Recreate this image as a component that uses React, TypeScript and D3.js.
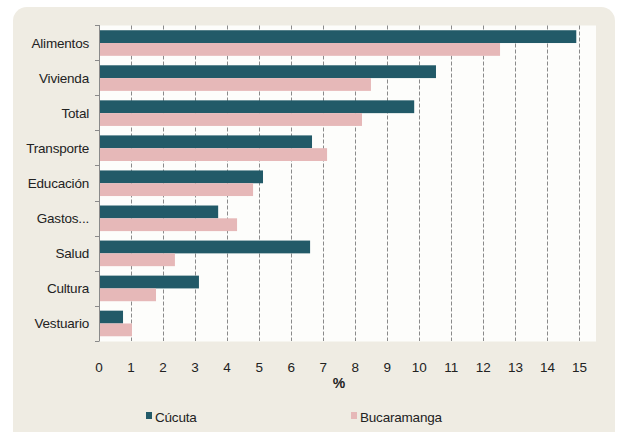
import * as d3 from 'd3';
import {useEffect, useRef} from "react";

const categories = ["Alimentos", "Vivienda", "Total", "Transporte", "Educación", "Gastos...", "Salud", "Cultura", "Vestuario"];
const cucuta = [14.9, 10.52, 9.84, 6.65, 5.12, 3.72, 6.59, 3.12, 0.75];
const bucaramanga = [12.52, 8.49, 8.21, 7.12, 4.81, 4.31, 2.37, 1.78, 1.03];
const seriesNames = ["Cúcuta", "Bucaramanga"];
const xTicks = d3.range(0, 16);

const colors = ["#225a68", "#e6b8b8"];
const font = "'Liberation Sans Narrow', 'Arial Narrow', 'Liberation Sans', sans-serif";

export default function App() {
    const svgRef = useRef<SVGSVGElement>(null);
    const width = 618;
    const height = 432;

    useEffect(() => {
        const svg = d3.select(svgRef.current);
        svg.selectAll("*").remove();

        // beige card behind everything
        svg.append("rect")
            .attr("x", 13).attr("y", 7)
            .attr("width", 602).attr("height", 440)
            .attr("rx", 14)
            .attr("fill", "#efece3");

        const x = d3.scaleLinear().domain([0, 15.5]).range([99, 595.5]);
        const y = d3.scaleBand().domain(categories).range([25.5, 341]).paddingInner(0.27).paddingOuter(0.135);

        // white plot area
        svg.append("rect")
            .attr("x", 99).attr("y", 25.5)
            .attr("width", 497).attr("height", 316)
            .attr("fill", "#fdfdfb");

        // dashed gridlines
        svg.append("g")
            .selectAll("line")
            .data(xTicks.filter(d => d > 0))
            .enter().append("line")
            .attr("x1", d => Math.round(x(d)) + 0.5)
            .attr("x2", d => Math.round(x(d)) + 0.5)
            .attr("y1", 25.5).attr("y2", 341)
            .attr("stroke", "#8a8a8a")
            .attr("stroke-dasharray", "4,2");

        const bh = y.bandwidth() / 2;
        const g = svg.append("g");
        [cucuta, bucaramanga].forEach((vals, si) => {
            g.selectAll(".bar" + si)
                .data(vals)
                .enter().append("rect")
                .attr("x", x(0))
                .attr("y", (d, i) => (y(categories[i]) as number) + si * bh)
                .attr("width", d => x(d) - x(0))
                .attr("height", bh)
                .attr("fill", colors[si]);
        });

        // y axis line + ticks
        const yAxis = svg.append("g");
        yAxis.append("line")
            .attr("x1", 99.5).attr("x2", 99.5)
            .attr("y1", 25).attr("y2", 341)
            .attr("stroke", "#8a8a8a");
        const step = (341 - 25) / categories.length;
        yAxis.selectAll(".tk")
            .data(d3.range(0, categories.length + 1))
            .enter().append("line")
            .attr("x1", 95).attr("x2", 99.5)
            .attr("y1", i => Math.round(25 + i * step) + 0.5)
            .attr("y2", i => Math.round(25 + i * step) + 0.5)
            .attr("stroke", "#8a8a8a");

        yAxis.selectAll("text")
            .data(categories)
            .enter().append("text")
            .attr("x", 89)
            .attr("y", d => (y(d) as number) + y.bandwidth() / 2)
            .attr("dy", "0.35em")
            .attr("text-anchor", "end")
            .attr("font-family", font)
            .attr("font-size", 13.5)
            .attr("letter-spacing", -0.2)
            .attr("fill", "#222")
            .text(d => d);

        // x tick labels
        svg.append("g").selectAll("text")
            .data(xTicks)
            .enter().append("text")
            .attr("x", d => x(d))
            .attr("y", 367)
            .attr("dy", "0.35em")
            .attr("text-anchor", "middle")
            .attr("font-family", font)
            .attr("font-size", 13.5)
            .attr("fill", "#222")
            .text(d => d);

        svg.append("text")
            .attr("x", 339).attr("y", 383)
            .attr("dy", "0.35em")
            .attr("text-anchor", "middle")
            .attr("font-family", font)
            .attr("font-size", 14)
            .attr("font-weight", "bold")
            .attr("fill", "#222")
            .text("%");

        // legend
        const legendX = [146, 351];
        seriesNames.forEach((name, i) => {
            svg.append("rect")
                .attr("x", legendX[i]).attr("y", 412)
                .attr("width", 6).attr("height", 7)
                .attr("fill", colors[i]);
            svg.append("text")
                .attr("x", legendX[i] + 9).attr("y", 417)
                .attr("dy", "0.35em")
                .attr("font-family", font)
                .attr("font-size", 13.5)
                .attr("letter-spacing", -0.2)
                .attr("fill", "#222")
                .text(name);
        });
    }, []);

    return (
        <svg ref={svgRef} width={width} height={height}
             style={{position: "absolute", left: 0, top: 0, background: "#fff"}}></svg>
    );
}
